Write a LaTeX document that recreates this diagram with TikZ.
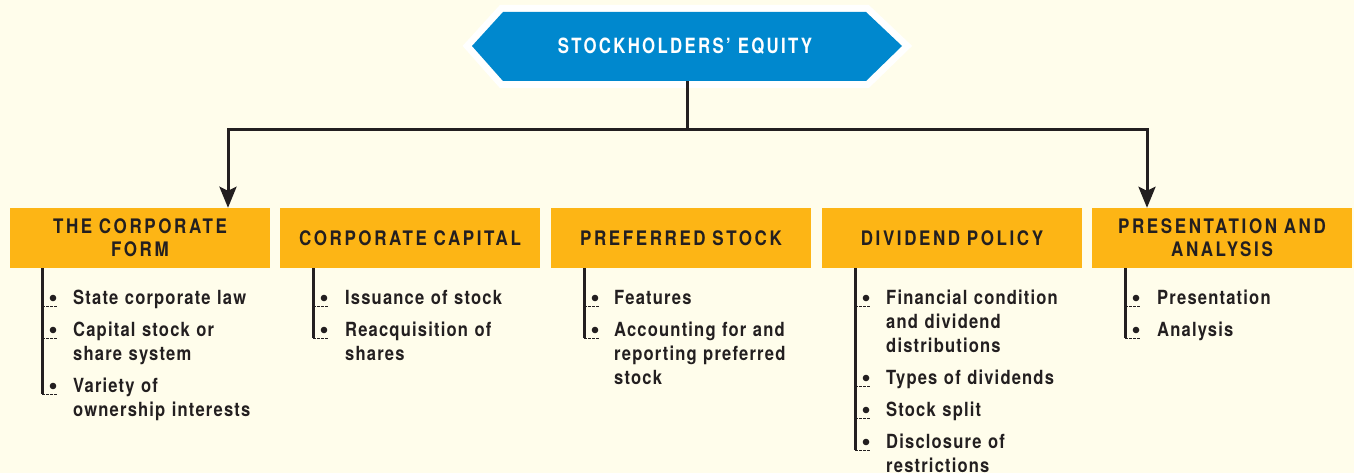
\documentclass[tikz,border=0pt]{standalone}
\usepackage{fontspec}
\setmainfont{TeX Gyre Heros}[FakeStretch=0.85,LetterSpace=6]
\newfontfamily\headfont{TeX Gyre Heros}[FakeStretch=0.85,LetterSpace=13]
\newfontfamily\titlefont{TeX Gyre Heros}[FakeStretch=0.8,LetterSpace=11]
\usetikzlibrary{arrows.meta}
\definecolor{PageCream}{HTML}{FFFDEB}
\definecolor{EquityBlue}{HTML}{0088CE}
\definecolor{TopicOrange}{HTML}{FDB515}
\definecolor{InkDark}{HTML}{231F20}

\tikzset{
  topic/.style={fill=TopicOrange, minimum width=260, minimum height=60, inner sep=0,
    text width=250, align=center, text=InkDark,
    font=\headfont\bfseries\fontsize{20}{23}\selectfont},
  point/.style={anchor=north west, inner sep=0, text width=210, align=left,
    text=InkDark, font=\bfseries\fontsize{19.5}{24}\selectfont},
  link/.style={InkDark, line width=3},
  tick/.style={InkDark, line width=0.8, dash pattern=on 2.5 off 1.5},
}

\begin{document}
\begin{tikzpicture}[x=1pt,y=-1pt]
  \useasboundingbox (0,0) rectangle (1354,473);
  \fill[PageCream] (0,0) rectangle (1354,473);

  % title hexagon
  \draw[white, line width=14, line join=miter]
    (472,46) -- (503,12) -- (866,12) -- (902,46) -- (866,81) -- (503,81) -- cycle;
  \fill[EquityBlue]
    (472,46) -- (503,12) -- (866,12) -- (902,46) -- (866,81) -- (503,81) -- cycle;
  \node (equity) at (685,46.5) [minimum height=69, inner sep=0, text=white,
    font=\titlefont\bfseries\fontsize{21}{24}\selectfont] {STOCKHOLDERS’ EQUITY};

  % topic boxes
  \node[topic] (form)    at (140,238)  {THE CORPORATE\\FORM};
  \node[topic] (capital) at (410,238)  {CORPORATE CAPITAL};
  \node[topic] (prefer)  at (681,238)  {PREFERRED STOCK};
  \node[topic] (divid)   at (952,238)  {DIVIDEND POLICY};
  \node[topic] (present) at (1222,238) {PRESENTATION AND\\ANALYSIS};

  % connectors
  \coordinate (hub) at (687,130);
  \draw[link] (equity.south -| hub) -- (hub);
  \draw[link, -{Stealth[length=21,width=17,inset=4]}] (hub) -| ([xshift=88]form.north);
  \draw[link, -{Stealth[length=21,width=17,inset=4]}] (hub) -| ([xshift=-75]present.north);

  % bullet lists
  \draw[link] ([xshift=-98]form.south) -- (42,394);
  \foreach \y/\txt in {298/{State corporate law},330/{Capital stock or\\share system},
                       386/{Variety of\\ownership interests}} {
    \fill[InkDark] (53,\y) circle (3.3);
    \draw[tick] (42,\y+8) -- (58,\y+8);
    \node[point] at (73,\y-8) {\txt};
  }
  \draw[link] ([xshift=-97]capital.south) -- (313,338);
  \foreach \y/\txt in {298/{Issuance of stock},330/{Reacquisition of\\shares}} {
    \fill[InkDark] (324,\y) circle (3.3);
    \draw[tick] (313,\y+8) -- (329,\y+8);
    \node[point] at (345,\y-8) {\txt};
  }
  \draw[link] ([xshift=-97]prefer.south) -- (584,338);
  \foreach \y/\txt in {298/{Features},330/{Accounting for and\\reporting preferred\\stock}} {
    \fill[InkDark] (595,\y) circle (3.3);
    \draw[tick] (584,\y+8) -- (600,\y+8);
    \node[point] at (614,\y-8) {\txt};
  }
  \draw[link] ([xshift=-97]divid.south) -- (855,450);
  \foreach \y/\txt in {298/{Financial condition\\and dividend\\distributions},378/{Types of dividends},
                       410/{Stock split},442/{Disclosure of\\restrictions}} {
    \fill[InkDark] (866,\y) circle (3.3);
    \draw[tick] (855,\y+8) -- (871,\y+8);
    \node[point] at (886,\y-8) {\txt};
  }
  \draw[link] ([xshift=-97]present.south) -- (1125,338);
  \foreach \y/\txt in {298/{Presentation},330/{Analysis}} {
    \fill[InkDark] (1136,\y) circle (3.3);
    \draw[tick] (1125,\y+8) -- (1141,\y+8);
    \node[point] at (1157,\y-8) {\txt};
  }
\end{tikzpicture}
\end{document}
